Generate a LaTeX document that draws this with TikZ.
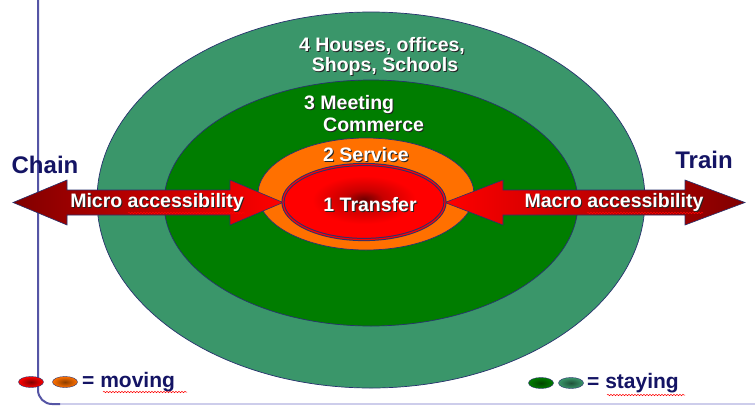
\documentclass[tikz,border=0pt]{standalone}
\usepackage{fontspec}
\setmainfont{Liberation Sans}
\usetikzlibrary{shapes.geometric,decorations.pathmorphing}
\definecolor{ringfour}{RGB}{58,150,106}
\definecolor{ringthree}{RGB}{0,125,0}
\definecolor{ringtwo}{RGB}{255,112,0}
\definecolor{navytxt}{RGB}{20,20,100}
\definecolor{edgeblue}{RGB}{40,50,110}
\definecolor{axisc}{RGB}{85,85,165}
\definecolor{axislight}{RGB}{205,205,235}
\definecolor{darkred}{RGB}{128,0,0}
\definecolor{coredark}{RGB}{110,0,0}
\definecolor{coremid}{RGB}{200,0,0}
\definecolor{shadowc}{RGB}{35,35,35}
\pgfdeclareradialshading{transfercore}{\pgfpoint{0bp}{2bp}}{color(0bp)=(coredark); color(6bp)=(coremid); color(16bp)=(red); color(50bp)=(red)}
\newcommand\shd[1]{\leavevmode\rlap{\kern1pt\raisebox{-1pt}{\textcolor{shadowc}{#1}}}#1}
\begin{document}
\begin{tikzpicture}[x=1pt,y=-1pt,
  ring/.style={ellipse, draw=edgeblue, line width=0.7pt, inner sep=0pt},
  lbl/.style={text=white, font=\bfseries\fontsize{19.5}{17}\selectfont, inner sep=0pt},
  side/.style={text=navytxt, font=\bfseries\fontsize{24}{26}\selectfont, inner sep=0pt},
  legtxt/.style={text=navytxt, font=\bfseries\fontsize{21}{23}\selectfont, inner sep=0pt, anchor=west},
  legdot/.style={ellipse, draw=edgeblue, line width=0.4pt, inner sep=0pt, minimum width=25pt, minimum height=11pt},
  arrowbody/.style={draw=edgeblue, line width=0.6pt},
  squiggle/.style={red, line width=0.5pt, decorate, decoration={snake, amplitude=0.7pt, segment length=3pt}}]
\useasboundingbox (0,0) rectangle (755,408);
\fill[white] (0,0) rectangle (755,408);
% axis
\draw[axislight, line width=1.2pt] (55,404) -- (755,404);
\draw[axisc, line width=2pt, rounded corners=14pt] (38,0) -- (38,404) -- (60,404);
% rings
\node[ring, fill=ringfour, minimum width=548pt, minimum height=376pt] (r4) at (371,200) {};
\node[ring, fill=ringthree, minimum width=414pt, minimum height=246pt] (r3) at (371,203) {};
\node[ring, fill=ringtwo, minimum width=216pt, minimum height=112pt] (r2) at (366,194) {};
% arrows
\path[arrowbody, left color=darkred, right color=red]
  (13,202.5) -- (67,180) -- (67,190) -- (230,190) -- (230,180) -- (283,202.5)
  -- (230,225) -- (230,215) -- (67,215) -- (67,225) -- cycle;
\path[arrowbody, left color=red, right color=darkred]
  (445,202.5) -- (503,180) -- (503,190) -- (685,190) -- (685,180) -- (745,202.5)
  -- (685,225) -- (685,215) -- (503,215) -- (503,225) -- cycle;
% centre
\node[ellipse, inner sep=0pt, minimum width=162pt, minimum height=75pt,
  draw=edgeblue, double=red, double distance=1.2pt, line width=1pt,
  shading=transfercore] (r1) at (364,202) {};
% labels
\node[lbl, align=center] (t4) at (382,57) {\shd{4 Houses, offices,}\\\shd{\hspace*{6pt}Shops, Schools}};
\node[lbl, align=left, anchor=west] (t3) at (304,114) {\shd{3 Meeting}\\[2pt]\shd{\hspace*{19pt}Commerce}};
\node[lbl] (t2) at (366,155) {\shd{2 Service}};
\node[lbl] (t1) at (370,205) {\shd{1 Transfer}};
\node[lbl] (micro) at (157,203) {\shd{Micro accessibility}};
\node[lbl] (macro) at (614,203) {\shd{Macro accessibility}};
\node[side] (chain) at (45,165) {Chain};
\node[side] (train) at (704,160) {Train};
% legend
\node[legdot, inner color=red!50!black, outer color=red] (lm1) at (31,382) {};
\node[legdot, inner color=ringtwo!55!black, outer color=ringtwo] (lm2) at (65,382) {};
\node[legtxt] (moving) at (82,382) {= moving};
\node[legdot, inner color=ringthree!55!black, outer color=ringthree] (ls1) at (541,383) {};
\node[legdot, inner color=ringfour!55!black, outer color=ringfour] (ls2) at (571,383) {};
\node[legtxt] (staying) at (587,383) {= staying};
% spell-check squiggles
\draw[squiggle] (128,213) -- (245,213);
\draw[squiggle] (587,213) -- (703,213);
\draw[squiggle] (103,392) -- (187,392);
\draw[squiggle] (607,395) -- (685,395);
\end{tikzpicture}
\end{document}
